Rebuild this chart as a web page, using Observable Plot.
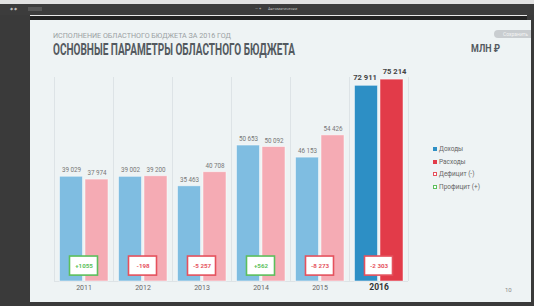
<!DOCTYPE html>
<html>
<head>
<meta charset="utf-8">
<script src="https://cdn.jsdelivr.net/npm/d3@7"></script>
<script src="https://cdn.jsdelivr.net/npm/@observablehq/plot@0.6"></script>
<style>
  html, body { margin: 0; padding: 0; }
  body { width: 534px; height: 306px; position: relative; overflow: hidden; background: #3a3a3a;
         font-family: Roboto, "DejaVu Sans", sans-serif; }
  .abs { position: absolute; }
  #toolbar { left: 0; top: 0; width: 534px; height: 4px; background: #e2e2e2; }
  #viewerbar { left: 0; top: 4px; width: 534px; height: 11px; background: #3c3c3c; }
  #whiteline { left: 30px; top: 15px; width: 497px; height: 1px; background: #e8e8e8; }
  #blackband { left: 30px; top: 16px; width: 497px; height: 4px; background: #222; }
  #slide { left: 30px; top: 20px; width: 501px; height: 282px; background: #eef3f4; }
  #sub { left: 53px; top: 31px; font-size: 8px; color: #9a9fa3; white-space: nowrap; transform-origin: 0 0; }
  #title { left: 53px; top: 40px; font-size: 16px; font-weight: bold; color: #545a60; white-space: nowrap; transform-origin: 0 0; }
  #unit { left: 471px; top: 43px; font-size: 10px; font-weight: bold; color: #545a60; white-space: nowrap; transform-origin: 0 0; }
  #pill { left: 494px; top: 30px; width: 37px; height: 8px; border-radius: 4px 0 0 4px; background: #c9cdd0; color: #f4f4f4; font-size: 5px; line-height: 8px; text-indent: 9px; overflow: hidden; white-space: nowrap; }
  #page { left: 505px; top: 286px; font-size: 6px; color: #888; }
  .leg { left: 433px; font-size: 6.5px; color: #666; white-space: nowrap; line-height: 8px; }
  .sq { display: inline-block; width: 4px; height: 4px; margin-right: 2px; vertical-align: 0px; box-sizing: border-box; }
  #chart { left: 0; top: 0; }
  .vb { font-size: 4px; color: #bbb; }
</style>
</head>
<body>
<div id="toolbar" class="abs"></div>
<div id="viewerbar" class="abs"></div>
<div class="abs vb" style="left:10px;top:6px;">◆ ◆</div>
<div class="abs" style="left:28px;top:7px;width:14px;height:4px;background:#555;"></div>
<div class="abs vb" style="left:255px;top:6px;">— +</div>
<div class="abs vb" style="left:268px;top:6px;">Автоматически</div>
<div id="whiteline" class="abs"></div>
<div id="blackband" class="abs"></div>
<div id="slide" class="abs"></div>
<div id="sub" class="abs">ИСПОЛНЕНИЕ ОБЛАСТНОГО БЮДЖЕТА ЗА 2016 ГОД</div>
<div id="title" class="abs">ОСНОВНЫЕ ПАРАМЕТРЫ ОБЛАСТНОГО БЮДЖЕТА</div>
<div id="unit" class="abs">МЛН ₽</div>
<div id="pill" class="abs">Сохранить</div>
<div id="page" class="abs">10</div>
<div id="legend"></div>
<div id="chart" class="abs"></div>
<script>
const years = ["2011", "2012", "2013", "2014", "2015", "2016"];
const income = [39029, 39002, 35463, 50653, 46153, 72911];
const expense = [37974, 39200, 40708, 50092, 54426, 75214];
const balance = [1055, -198, -5257, 562, -8273, -2303];
const balanceLabels = ["+1055", "-198", "-5 257", "+562", "-8 273", "-2 303"];
const currentYear = "2016";
const legendLabels = ["Доходы", "Расходы", "Дефицит (-)", "Профицит (+)"];

const colors = {
  income: "#7fbde1", expense: "#f5abb4",
  incomeNow: "#2d8fc5", expenseNow: "#e23b49",
  surplus: "#5cbf5c", deficit: "#e5515d"
};

const rows = years.map((year, i) => ({
  year, income: income[i], expense: expense[i], balance: balance[i], label: balanceLabels[i]
}));
const fmt = v => d3.format(",")(v).replace(/,/g, " ");
const past = rows.filter(d => d.year !== currentYear);
const now = rows.filter(d => d.year === currentYear);

const chart = Plot.plot({
  width: 534, height: 306,
  marginLeft: 54, marginRight: 126, marginTop: 77, marginBottom: 25,
  x: {domain: years, padding: 0, axis: null},
  y: {domain: [0, 76000], axis: null},
  style: {background: "transparent", overflow: "visible", fontFamily: "Roboto, sans-serif"},
  marks: [
    Plot.ruleX(years, {x: d => d, dx: -29.5, stroke: "#dde3e6", strokeWidth: 1}),
    Plot.ruleX([currentYear], {x: d => d, dx: 29.5, stroke: "#dde3e6", strokeWidth: 1}),
    Plot.ruleY([0], {stroke: "#dde3e6"}),
    Plot.barY(rows, {x: "year", y: "income", insetLeft: 5.5, insetRight: 30.5,
      fill: d => d.year === currentYear ? colors.incomeNow : colors.income, stroke: "#ffffff", strokeOpacity: 0.6, strokeWidth: 0.8}),
    Plot.barY(rows, {x: "year", y: "expense", insetLeft: 31, insetRight: 5,
      fill: d => d.year === currentYear ? colors.expenseNow : colors.expense, stroke: "#ffffff", strokeOpacity: 0.6, strokeWidth: 0.8}),
    Plot.text(past, {x: "year", y: "income", text: d => fmt(d.income), dx: -12.5, dy: -6.5, fill: "#777", fontSize: 6.3}),
    Plot.text(past, {x: "year", y: "expense", text: d => fmt(d.expense), dx: 13, dy: -6.5, fill: "#777", fontSize: 6.3}),
    Plot.text(now, {x: "year", y: "income", text: d => fmt(d.income), dx: -14, dy: -8, fill: "#444", fontSize: 7.6, fontWeight: "bold"}),
    Plot.text(now, {x: "year", y: "expense", text: d => fmt(d.expense), dx: 15.5, dy: -8, fill: "#444", fontSize: 7.6, fontWeight: "bold"}),
    Plot.barY(rows, {x: "year", y1: 2200, y2: 9300, insetLeft: 15.5, insetRight: 15.5, fill: "white",
      stroke: d => d.balance > 0 ? colors.surplus : colors.deficit, strokeWidth: 1.6}),
    Plot.text(rows, {x: "year", y: 5750, text: "label", fontSize: 6.2, fontWeight: "bold",
      fill: d => d.balance > 0 ? colors.surplus : colors.deficit}),
    Plot.text(past, {x: "year", text: "year", frameAnchor: "bottom", dy: 8.5, fill: "#666", fontSize: 7}),
    Plot.text(now, {x: "year", text: "year", frameAnchor: "bottom", dy: 8.5, fill: "#333", fontSize: 8.5, fontWeight: "bold"})
  ]
});
document.getElementById("chart").appendChild(chart);

// condense title texts to the reference widths
function fitWidth(id, target) {
  const el = document.getElementById(id);
  const w = el.getBoundingClientRect().width;
  if (w > 0) el.style.transform = `scaleX(${target / w})`;
}
fitWidth("sub", 178);
fitWidth("title", 242);
fitWidth("unit", 29);

const legendStyles = [
  {bg: colors.incomeNow, border: colors.incomeNow},
  {bg: colors.expenseNow, border: colors.expenseNow},
  {bg: "#fff", border: colors.deficit},
  {bg: "#fff", border: colors.surplus}
];
const legendTops = [145, 157.5, 170, 182.5];
const legend = document.getElementById("legend");
legendLabels.forEach((label, i) => {
  const el = document.createElement("div");
  el.className = "abs leg";
  el.style.top = legendTops[i] + "px";
  const s = legendStyles[i];
  el.innerHTML = `<span class="sq" style="background:${s.bg};border:1px solid ${s.border}"></span>${label}`;
  legend.appendChild(el);
});
</script>
</body>
</html>
